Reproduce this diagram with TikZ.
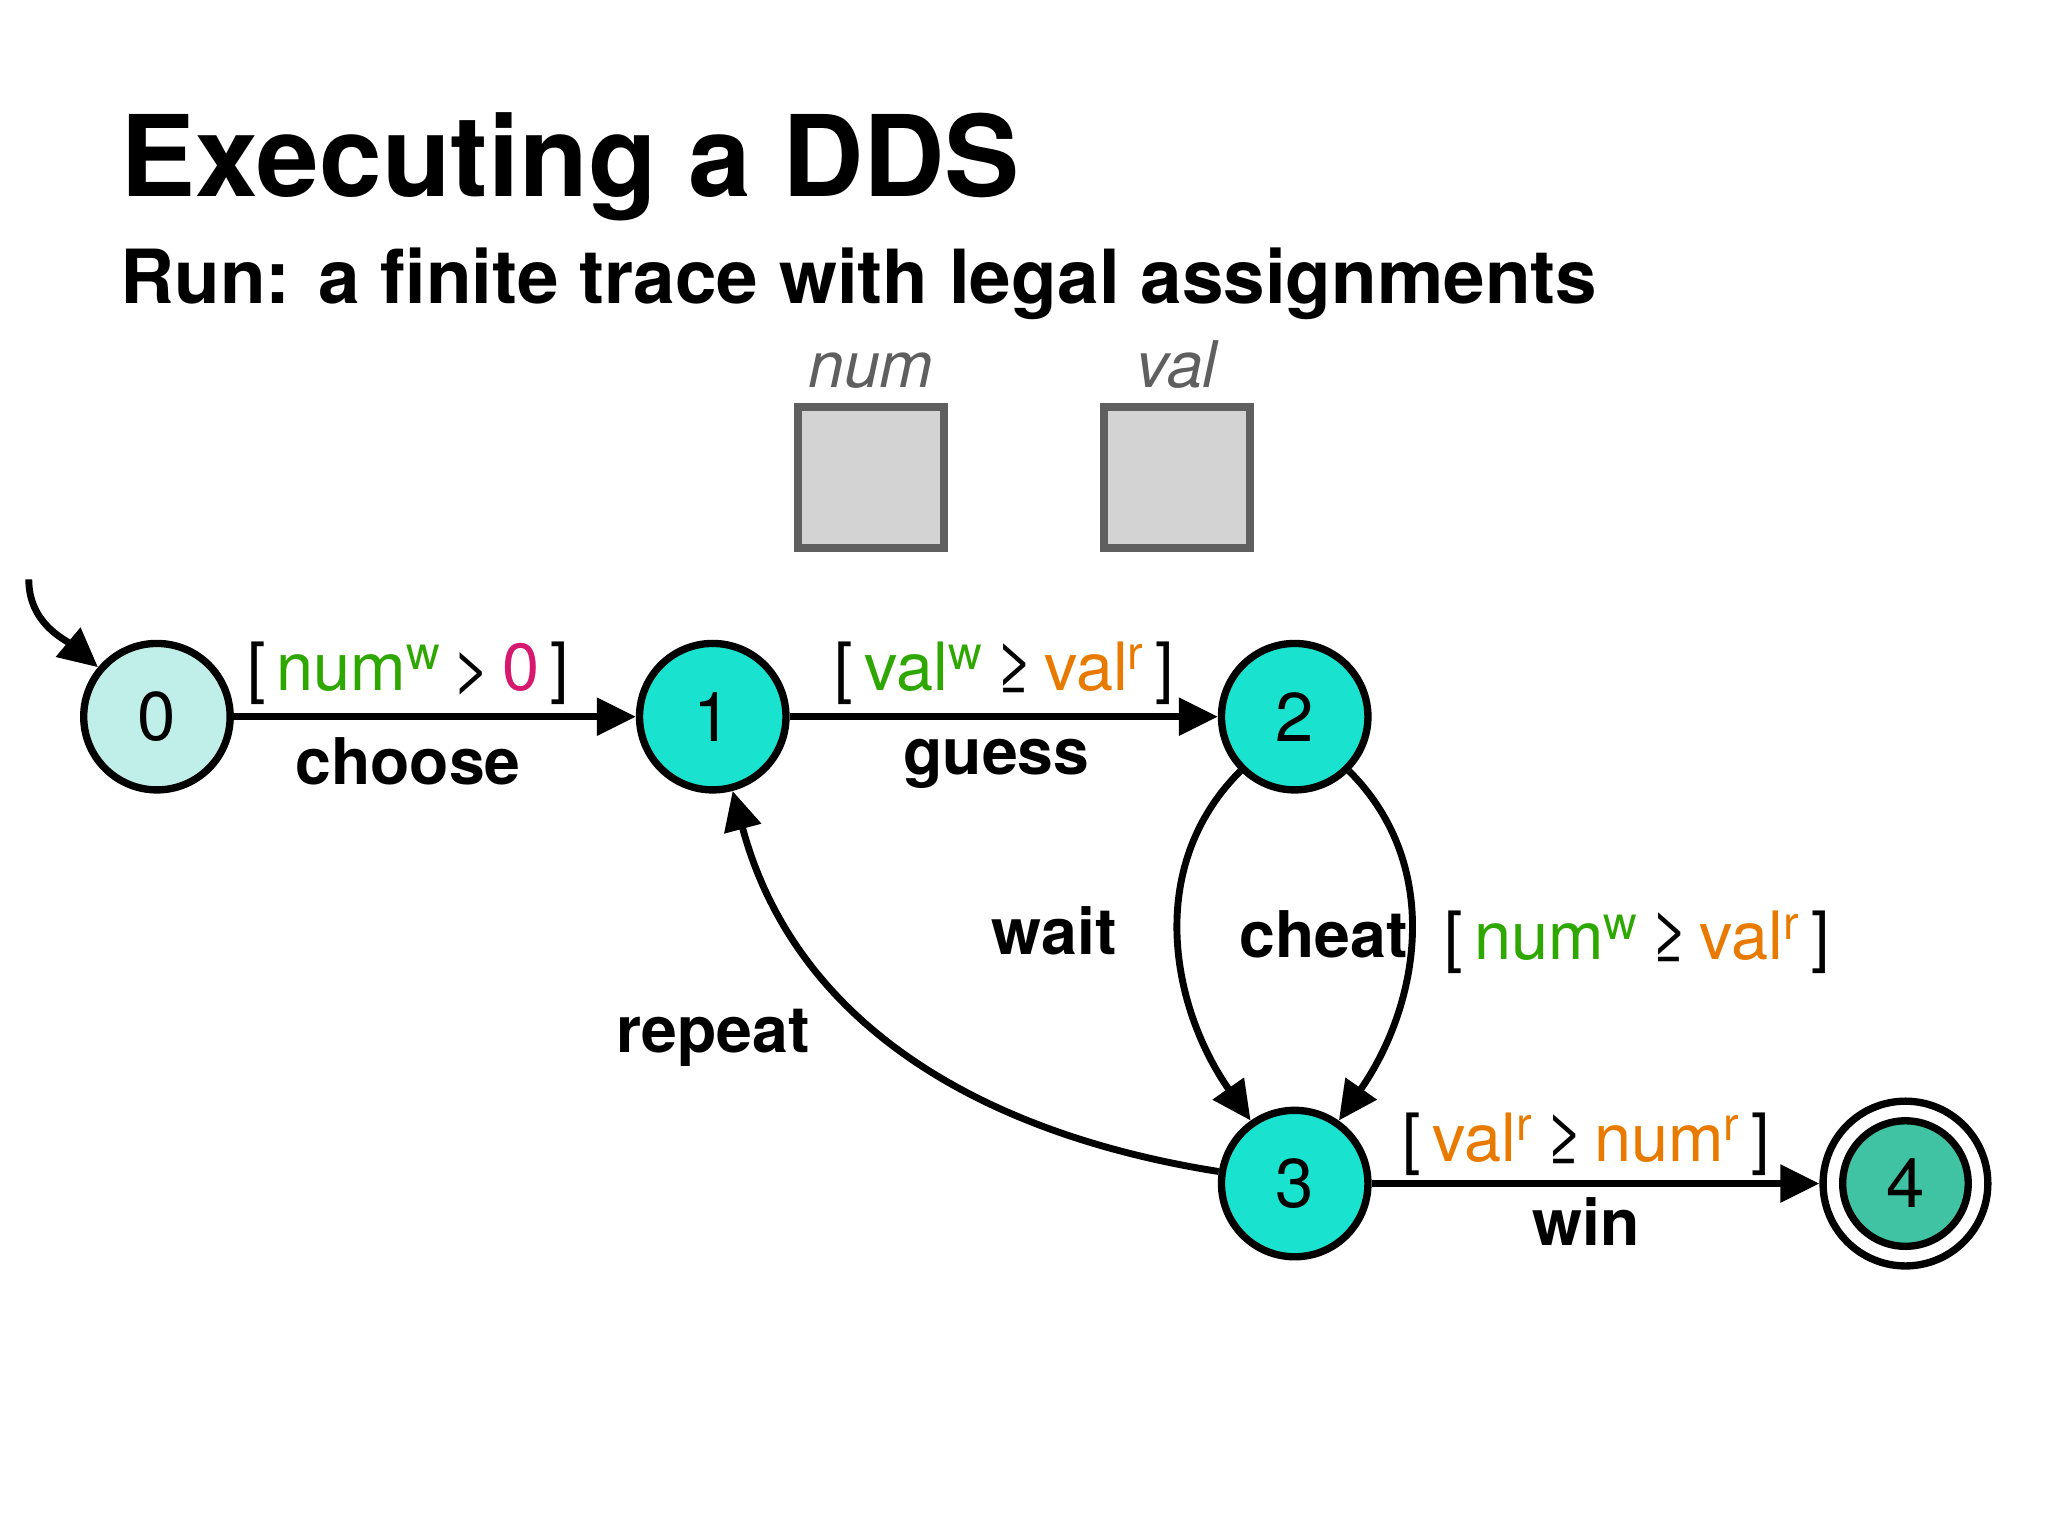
\documentclass[tikz,border=0pt]{standalone}
\usepackage{fontspec}
\setmainfont{TeX Gyre Heros}
\usetikzlibrary{arrows.meta}
\definecolor{gr}{HTML}{2EA800}
\definecolor{orr}{HTML}{E87A00}
\definecolor{mg}{HTML}{D6186E}
\definecolor{lt}{HTML}{BFEFE8}
\definecolor{cy}{HTML}{19E3CF}
\definecolor{dk}{HTML}{40C3A2}
\definecolor{bx}{HTML}{D3D3D3}
\definecolor{bxd}{HTML}{5F5F5F}
\newcommand{\sw}{\textsuperscript{w}}
\newcommand{\sr}{\textsuperscript{r}}
\begin{document}
\begin{tikzpicture}[x=0.02cm,y=-0.02cm,
  st/.style={circle,draw,line width=3.2pt,minimum size=112*0.02cm,inner sep=0pt,font=\fontsize{30}{30}\selectfont},
  ed/.style={line width=3pt,-{Triangle[length=17pt,width=16pt]}},
  nm/.style={font=\fontsize{28}{28}\selectfont\bfseries},
  gd/.style={font=\fontsize{29}{29}\selectfont},
  box/.style={draw=bxd,fill=bx,line width=3.4pt,minimum width=112*0.02cm,minimum height=108*0.02cm,inner sep=0pt},
  vn/.style={font=\fontsize{28}{28}\selectfont\itshape,text=bxd}]
\useasboundingbox (0,0) rectangle (1566,1174.5);
\node[anchor=base west,font=\fontsize{49}{49}\selectfont\bfseries,inner sep=0pt] (title) at (92,150) {Executing a DDS};
\node[anchor=base west,font=\fontsize{32.5}{32.5}\selectfont\bfseries,inner sep=0pt] (sub) at (92,232) {Run: a finite trace with legal assignments};
\node[box] (bnum) at (666,365) {};
\node[box] (bval) at (900,365) {};
\node[vn,anchor=base] (lnum) at (666,296) {num};
\node[vn,anchor=base] (lval) at (900,296) {val};
\node[st,fill=lt] (s0) at (120,548) {0};
\node[st,fill=cy] (s1) at (545,548) {1};
\node[st,fill=cy] (s2) at (990,548) {2};
\node[st,fill=cy] (s3) at (990,905) {3};
\node[st,fill=dk,minimum size=96*0.02cm] (s4) at (1457,905) {4};
\node[circle,draw,line width=3.2pt,minimum size=126*0.02cm] (s4o) at (1457,905) {};
\coordinate (init) at (22,443);
\draw[ed] (init) to[out=-90,in=140] (s0);
\draw[ed] (s0) -- (s1);
\draw[ed] (s1) -- (s2);
\draw[ed] (s2) to[out=225,in=125] (s3);
\draw[ed] (s2) to[out=-45,in=55] (s3);
\draw[ed] (s3) to[out=171,in=-75] (s1);
\draw[ed] (s3) -- (s4o);
\node[gd,anchor=base] (g01) at (312,528) {[\,\textcolor{gr}{num\sw}\,>\,\textcolor{mg}{0}\,]};
\node[nm,anchor=base] (l01) at (312,600) {choose};
\node[gd,anchor=base] (g12) at (768,528) {[\,\textcolor{gr}{val\sw}\,≥\,\textcolor{orr}{val\sr}\,]};
\node[nm,anchor=base] (l12) at (762,592) {guess};
\node[nm,anchor=base] (lw) at (806,730) {wait};
\node[nm,anchor=base] (lc) at (1012,732) {cheat};
\node[gd,anchor=base] (gc) at (1252,734) {[\,\textcolor{gr}{num\sw}\,≥\,\textcolor{orr}{val\sr}\,]};
\node[nm,anchor=base] (lr) at (545,805) {repeat};
\node[gd,anchor=base] (g34) at (1213,888) {[\,\textcolor{orr}{val\sr}\,≥\,\textcolor{orr}{num\sr}\,]};
\node[nm,anchor=base] (l34) at (1213,952) {win};
\end{tikzpicture}
\end{document}
